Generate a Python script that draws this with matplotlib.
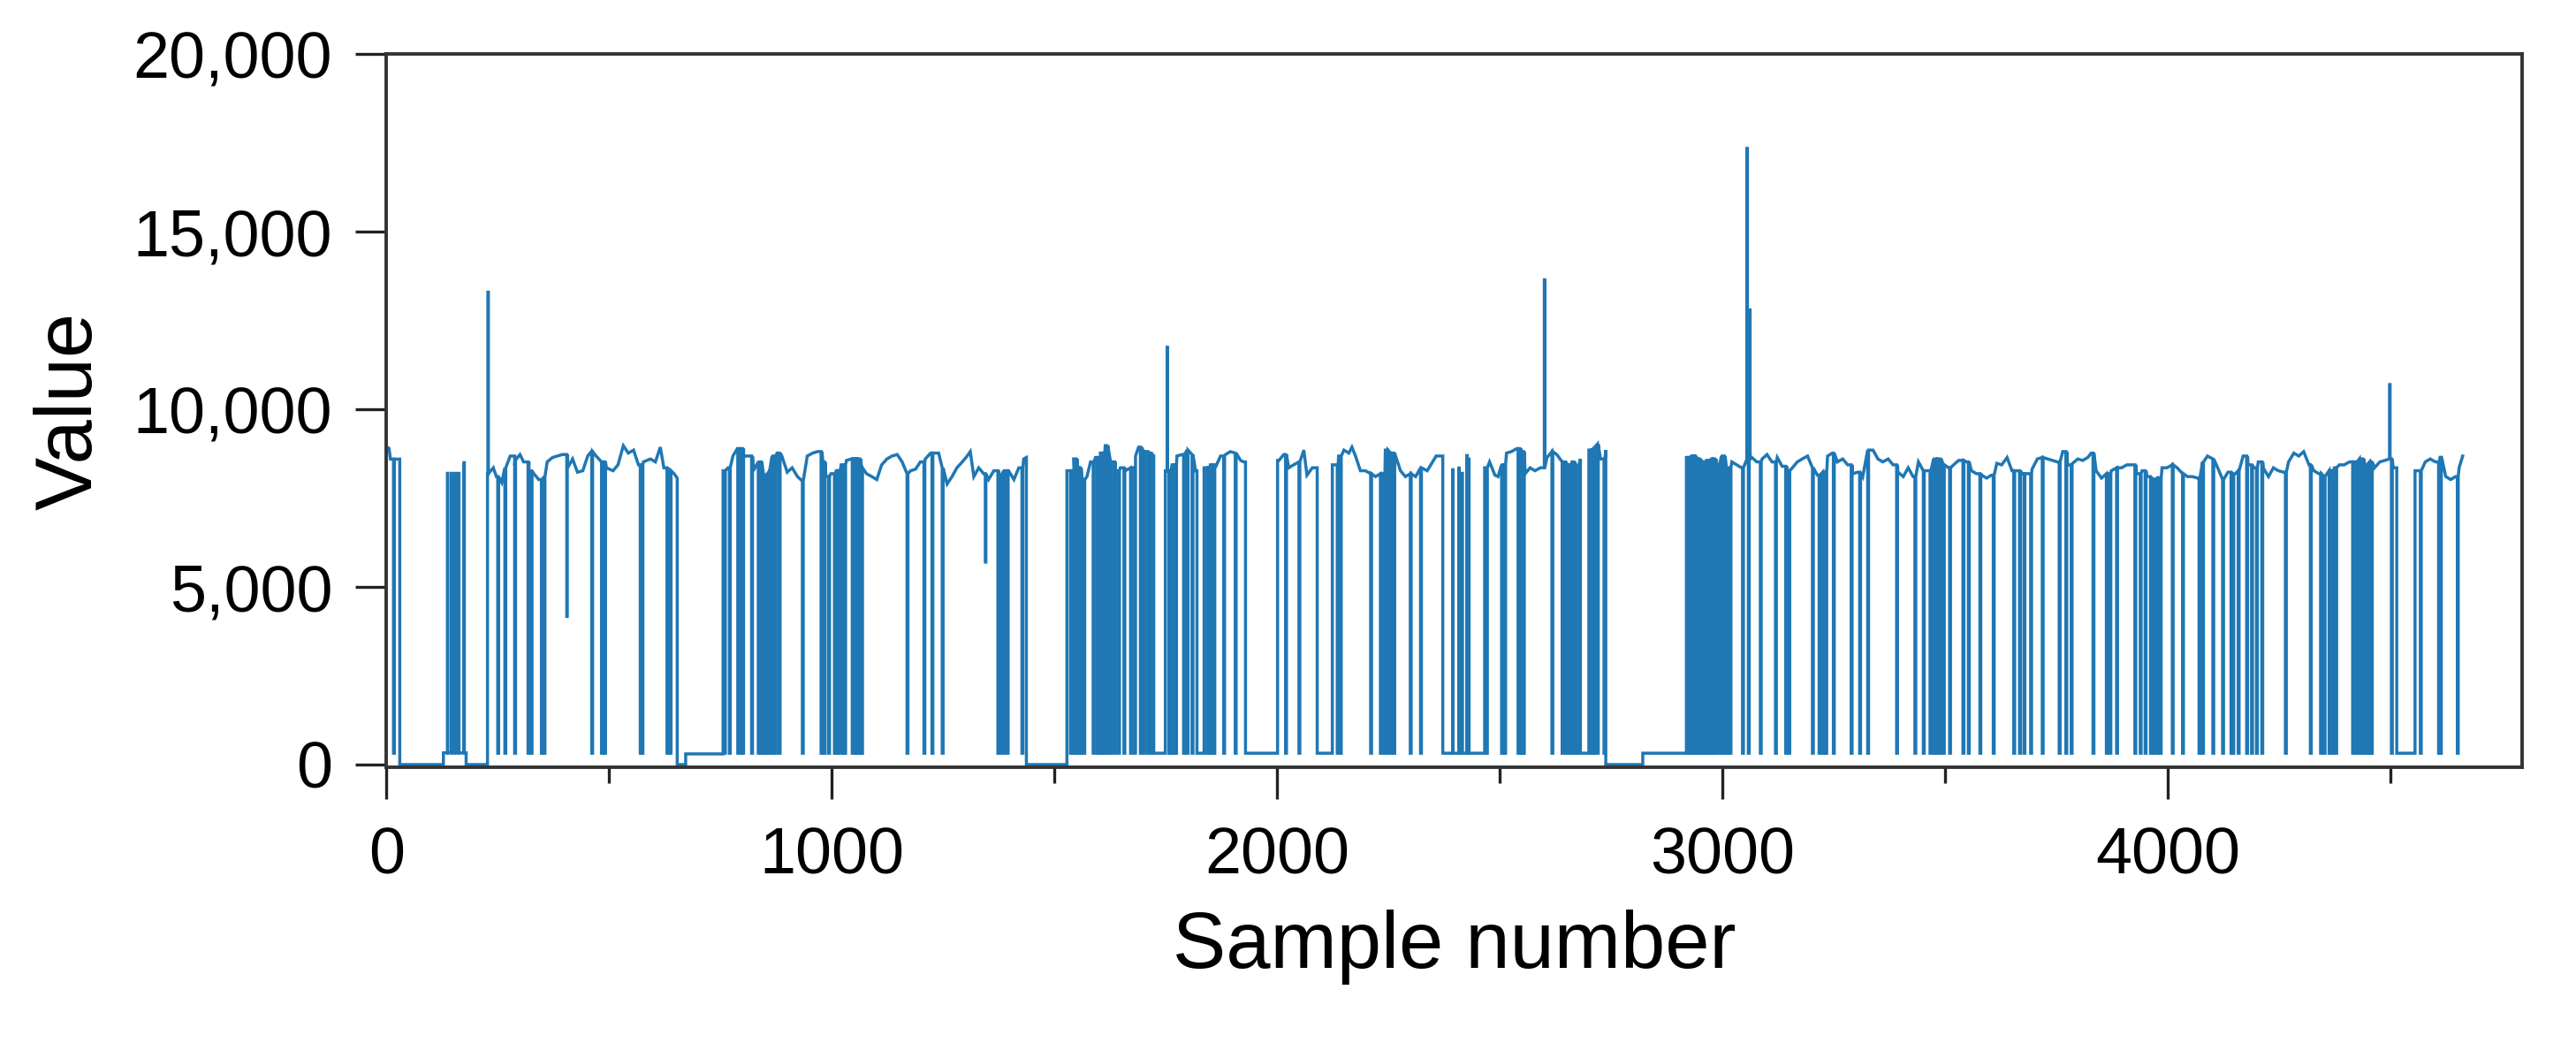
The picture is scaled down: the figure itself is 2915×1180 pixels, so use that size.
import numpy as np
import matplotlib
matplotlib.use("Agg")
import matplotlib.pyplot as plt
from matplotlib.ticker import FuncFormatter

# plateau level (sample number, value)
LEVEL_X = [
    0, 6, 9, 28,
    228, 240, 247, 259, 266, 278, 289, 300, 308, 319, 331, 342, 354, 361, 373, 384,
    395, 407, 418, 429, 441, 452, 460, 471, 483, 494, 509, 520, 532, 543, 555, 566,
    577, 593, 604, 615, 623, 634, 646, 653,
    756, 767, 778, 788, 801, 813, 824, 835, 847, 858, 866, 877, 888, 900, 911, 923,
    934, 945, 957, 968, 980, 987, 998, 1010, 1021, 1033, 1044, 1055, 1067, 1078, 1090,
    1101, 1112, 1124, 1135, 1147, 1158, 1169, 1177, 1188, 1199, 1210, 1222, 1233, 1240,
    1248, 1259, 1270, 1281, 1293, 1304, 1311, 1319, 1330, 1341, 1352, 1364, 1375, 1386,
    1397, 1409, 1420, 1431, 1437,
    1532, 1543, 1551, 1562, 1573, 1581, 1592, 1603, 1614, 1626, 1637, 1648, 1659, 1671,
    1682, 1689, 1701, 1712, 1719,
    1753, 1764, 1775, 1787, 1798, 1809, 1817,
    1839, 1850, 1861, 1873, 1884, 1895, 1906, 1918, 1925,
    2004, 2015, 2026, 2037, 2049, 2060, 2067, 2079, 2086,
    2127, 2138, 2150, 2161, 2168, 2176, 2187, 2198, 2210, 2221, 2232, 2243, 2255, 2266,
    2277, 2288, 2299, 2311, 2322, 2337, 2357, 2370,
    2466, 2477, 2489, 2496, 2504, 2515, 2526, 2538, 2549, 2557, 2568, 2579, 2591, 2606,
    2617, 2628, 2640, 2651, 2662, 2674, 2681,
    2700, 2711, 2719, 2726, 2738,
    2919, 2930, 2942, 2953, 2964, 2975, 2987, 2998, 3009, 3021, 3032, 3043, 3055, 3066,
    3077, 3089, 3100, 3111, 3123, 3134, 3145, 3157, 3168, 3179, 3191, 3202, 3213, 3225,
    3236, 3247, 3258, 3270, 3281, 3292, 3304, 3315, 3326, 3338, 3349, 3360, 3372, 3383,
    3394, 3406, 3417, 3428, 3440, 3451, 3462, 3474, 3485, 3496, 3508, 3519, 3530, 3548,
    3559, 3570, 3582, 3593, 3604, 3616, 3627, 3639, 3650, 3661, 3673, 3684, 3695, 3707,
    3718, 3730, 3741, 3752, 3764, 3775, 3786, 3798, 3809, 3820, 3828, 3839, 3851, 3862,
    3873, 3885, 3896, 3908, 3919, 3930, 3942, 3953, 3964, 3976, 3987, 3998, 4010, 4021,
    4033, 4044, 4055, 4067, 4078, 4089, 4101, 4112, 4123, 4135, 4146, 4158, 4169, 4180,
    4192, 4203, 4214, 4226, 4237, 4248, 4260, 4271, 4283, 4294, 4305, 4317, 4328, 4339,
    4351, 4362, 4374, 4385, 4396, 4408, 4419, 4430, 4442, 4453, 4464, 4476, 4487, 4498,
    4506,
    4559, 4567, 4578, 4589, 4601, 4612, 4624, 4635, 4646, 4654, 4662,
]
LEVEL_Y = [
    8950, 8900, 8600, 8600,
    8190, 8356, 8108, 7942, 8356, 8687, 8563, 8729, 8522, 8273, 8190, 8025, 8108, 8522, 8646, 8687,
    8729, 8356, 8605, 8232, 8273, 8687, 8812, 8687, 8522, 8356, 8273, 8439, 8978, 8770, 8854, 8439,
    8522, 8605, 8522, 8937, 8356, 8273, 8190, 8066,
    8273, 8356, 8687, 8895, 8687, 8687, 8273, 8522, 8149, 8232, 8687, 8770, 8687, 8232, 8356, 8108,
    7983, 8687, 8770, 8812, 8522, 8108, 8190, 8273, 8439, 8563, 8605, 8605, 8356, 8190, 8108,
    8025, 8439, 8605, 8687, 8729, 8522, 8190, 8273, 8315, 8522, 8605, 8770, 8770, 8770,
    8356, 7900, 8108, 8356, 8522, 8687, 8812, 8108, 8356, 8190, 8025, 8273, 8149, 8273,
    8273, 8025, 8356, 8605, 8646,
    8273, 8605, 8356, 8025, 8108, 8522, 8646, 8770, 8978, 8522, 8273, 8356, 8273, 8356,
    8687, 8937, 8812, 8770, 8687,
    8273, 8439, 8687, 8729, 8854, 8729, 8273,
    8356, 8439, 8356, 8687, 8729, 8812, 8770, 8563, 8522,
    8563, 8729, 8356, 8439, 8522, 8854, 8149, 8356, 8356,
    8439, 8687, 8854, 8770, 8937, 8687, 8273, 8273, 8190, 8108, 8190, 8854, 8770, 8687,
    8273, 8108, 8190, 8108, 8356, 8273, 8687, 8687,
    8356, 8522, 8149, 8108, 8439, 8770, 8812, 8895, 8812, 8190, 8356, 8273, 8356, 8646,
    8812, 8729, 8522, 8439, 8522, 8356, 8605,
    8854, 8937, 9020, 8605, 8854,
    8646, 8687, 8605, 8522, 8563, 8605, 8439, 8687, 8356, 8522, 8439, 8356, 8605, 8646,
    8522, 8605, 8729, 8522, 8646, 8398, 8273, 8356, 8522, 8605, 8687, 8356, 8149, 8232,
    8687, 8770, 8522, 8605, 8439, 8190, 8232, 8108, 8854, 8854, 8605, 8522, 8605, 8439,
    8232, 8108, 8356, 8108, 8522, 8273, 8273, 8605, 8605, 8439, 8356, 8439, 8563, 8522,
    8273, 8190, 8149, 8066, 8149, 8481, 8439, 8646, 8273, 8273, 8190, 8190, 8315, 8605,
    8646, 8605, 8563, 8522, 8812, 8439, 8481, 8605, 8563, 8646, 8770, 8273, 8066, 8190,
    8273, 8356, 8356, 8439, 8439, 8190, 8273, 8108, 8025, 8066, 8356, 8356, 8439, 8356,
    8190, 8108, 8108, 8066, 8522, 8687, 8605, 8356, 8025, 8232, 8149, 8273, 8687, 8439,
    8356, 8522, 8356, 8108, 8356, 8273, 8232, 8522, 8770, 8687, 8812, 8439, 8273, 8190,
    8108, 8273, 8356, 8439, 8439, 8522, 8522, 8605, 8439, 8522, 8356, 8522, 8563, 8605,
    8356,
    8273, 8273, 8522, 8605, 8522, 8687, 8108, 8025, 8108, 8356, 8687,
]

# stretches where the signal sits on a flat level (nan = normal running level)
REGION_START = [0, 30, 128, 179, 227, 653, 672, 756, 1437, 1528, 1723, 1749, 1820, 1836,
                1929, 2001, 2090, 2124, 2372, 2466, 2681, 2700, 2738, 2821, 2919, 4514, 4555]
REGION_END = [30, 128, 179, 227, 653, 672, 756, 1437, 1528, 1723, 1749, 1820, 1836, 1929,
              2001, 2090, 2124, 2372, 2466, 2681, 2700, 2738, 2821, 2919, 4514, 4555, 4662]
REGION_LEVEL = [np.nan, 0, 330, 0, np.nan, 0, 300, np.nan, 0, np.nan, 320, np.nan, 320, np.nan,
                320, np.nan, 320, np.nan, 320, np.nan, 320, np.nan, 0, 320, np.nan, 320, np.nan]

BASE_LEVEL = 320

# short dips down to the base level
DROP_X = [
    16,
    250, 266, 288, 318, 325, 348, 354, 461, 483, 490, 570, 574, 630, 637,
    759, 770, 789, 795, 800, 820, 835, 841, 847, 851, 858, 866, 873, 882, 934, 976, 983,
    993, 1006, 1011, 1017, 1025, 1029, 1046, 1052, 1057, 1063, 1067, 1169, 1207, 1225,
    1248, 1373, 1379, 1386, 1394, 1427,
    1536, 1542, 1549, 1555, 1558, 1566, 1587, 1596, 1602, 1607, 1611, 1618, 1626, 1635,
    1644, 1656, 1671, 1680, 1693, 1701, 1710, 1717, 1757, 1760, 1768, 1772, 1790, 1798,
    1809, 1843, 1847, 1854, 1858, 1880, 1906, 2019, 2049, 2135, 2142, 2210, 2232, 2240,
    2247, 2255, 2262, 2299, 2322,
    2470, 2504, 2508, 2511, 2541, 2545, 2549, 2553, 2617, 2640, 2647, 2655, 2658, 2666,
    2674, 2704, 2708, 2711, 2719, 2734,
    2921, 2926, 2932, 2936, 2939, 2944, 2949, 2953, 2957, 2960, 2966, 2972, 2977, 2983,
    2991, 2998, 3004, 3009, 3017, 3045, 3058, 3085, 3119, 3142, 3149, 3202, 3217, 3225,
    3232, 3249, 3289, 3308, 3326, 3391, 3432, 3451, 3466, 3474, 3481, 3489, 3496, 3510,
    3540, 3552, 3578, 3608, 3654, 3667, 3677, 3692, 3718, 3756, 3771, 3783, 3832, 3862,
    3870, 3885, 3926, 3938, 3949, 3961, 3968, 3976, 3983, 4010, 4033, 4070, 4078, 4101,
    4123, 4142, 4146, 4158, 4177, 4188, 4199, 4211, 4264, 4320, 4343, 4351, 4362, 4370,
    4377, 4415, 4423, 4430, 4438, 4445, 4453, 4457, 4502,
    4567, 4608, 4612, 4650,
]

# dips that stop part way
PARTIAL_X = [405, 1345]
PARTIAL_Y = [4170, 5700]

# single-sample peaks (and pulses rising out of the base stretches)
SPIKE_X = [228, 1753, 2600, 3055, 3061, 4498,
           137, 146, 154, 162, 174, 2394, 2408, 2415, 2426, 2430]
SPIKE_Y = [13300, 11750, 13650, 17350, 12800, 10700,
           8200, 8200, 8200, 8200, 8500, 8300, 8350, 8200, 8700, 8600]

X_MAJOR = [0, 1000, 2000, 3000, 4000]
X_MINOR = [500, 1500, 2500, 3500, 4500]
Y_TICKS = [0, 5000, 10000, 15000, 20000]


def build_series():
    knot_x = np.array(LEVEL_X)
    knot_y = np.array(LEVEL_Y)
    events = [(x, BASE_LEVEL, 2) for x in DROP_X]
    events += [(x, y, 1) for x, y in zip(PARTIAL_X, PARTIAL_Y)]
    events += [(x, y, 1) for x, y in zip(SPIKE_X, SPIKE_Y)]

    xs, ys = [], []
    for start, end, level in zip(REGION_START, REGION_END, REGION_LEVEL):
        if np.isnan(level):
            mask = (knot_x >= start) & (knot_x <= end)
            kx, ky = knot_x[mask], knot_y[mask]
            items = [(start, 0, ky[0])] + [(x, 0, y) for x, y in zip(kx, ky)] + [(end, 0, ky[-1])]
        else:
            items = [(start, 0, level), (end, 0, level)]
        items += [(x, 1, (y, w)) for x, y, w in events if start <= x < end]
        items.sort(key=lambda t: (t[0], t[1]))

        cur = items[0][2]
        for x, kind, val in items:
            if kind == 0:
                xs.append(x)
                ys.append(val)
                cur = val
            else:
                target, w = val
                xs += [x, x, x + w, x + w]
                ys += [cur, target, target, cur]
    return np.array(xs), np.array(ys)


def main():
    plt.rcParams["font.family"] = ["Liberation Sans", "DejaVu Sans"]

    fig = plt.figure(figsize=(14.575, 5.9), dpi=200)
    ax = fig.add_axes([0.150, 0.2644, 0.829, 0.6836])

    xs, ys = build_series()
    ax.plot(xs, ys, color="#1f77b4", linewidth=1.25, solid_joinstyle="miter")

    ax.set_xlim(0, 4795)
    ax.set_ylim(-75, 20000)
    ax.set_xticks(X_MAJOR)
    ax.set_xticks(X_MINOR, minor=True)
    ax.set_yticks(Y_TICKS)
    ax.yaxis.set_major_formatter(FuncFormatter(lambda v, _: f"{v:,.0f}"))

    for side in ["left", "right", "top", "bottom"]:
        ax.spines[side].set_linewidth(1.4)
        ax.spines[side].set_color("#333333")

    ax.tick_params(axis="both", which="major", direction="out", length=12.5, width=1.2,
                   labelsize=26.5, color="#222222")
    ax.tick_params(axis="x", which="major", length=13, pad=11)
    ax.tick_params(axis="y", which="major", pad=9.5)
    ax.tick_params(axis="x", which="minor", direction="out", length=6.5, width=1.2,
                   color="#222222")

    ax.set_xlabel("Sample number", fontsize=32.5, labelpad=9)
    ax.set_ylabel("Value", fontsize=32.5, labelpad=10)

    fig.savefig("out.png", dpi=200, facecolor="white")
    plt.close(fig)


if __name__ == "__main__":
    main()
